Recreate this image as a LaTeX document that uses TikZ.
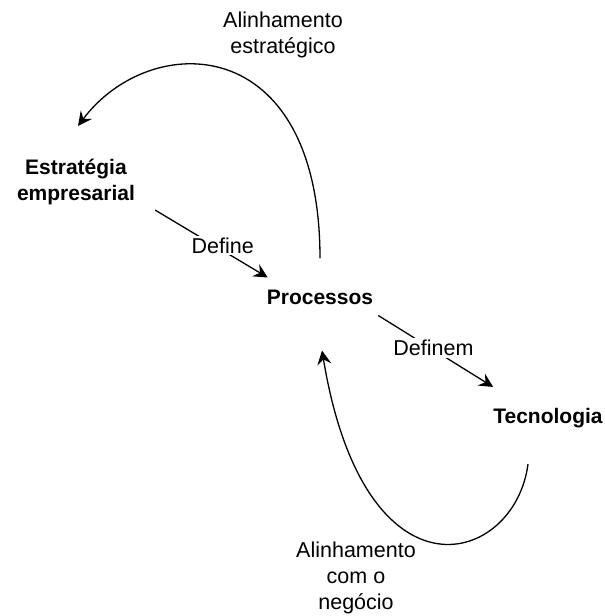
\documentclass[tikz,border=0pt]{standalone}
\usepackage{fontspec}
\setmainfont{Liberation Sans}
\usetikzlibrary{arrows.meta}
\begin{document}
\begin{tikzpicture}[x=1pt,y=-1pt,
  concept/.style={font=\fontsize{21}{26}\selectfont\bfseries, align=center, inner sep=2pt},
  note/.style={font=\fontsize{21.5}{26}\selectfont, align=center, inner sep=2pt},
  lbl/.style={note, fill=white},
  link/.style={line width=1.3pt, -{Stealth[length=14pt,width=14pt,inset=5pt]}},
]
\useasboundingbox (0,0) rectangle (605,616);

% concepts
\node[concept] (est) at (76,182) {Estratégia\\empresarial};
\node[concept] (proc) at (320,297) {Processos};
\node[concept] (tec) at (548,418) {Tecnologia};

% straight "define" relations
\draw[link] ([xshift=18pt,yshift=-3pt]est.south east)
  -- node[lbl, pos=0.6, yshift=5pt] (def1) {Define}
  ([xshift=3pt,yshift=10pt]proc.north west);
\draw[link] ([xshift=3pt,yshift=-9pt]proc.south east)
  -- node[lbl, pos=0.48, yshift=2pt] (def2) {Definem}
  ([xshift=2pt,yshift=19pt]tec.north west);

% alignment loops
\draw[link] ([yshift=29pt]proc.north)
  .. controls (320,30) and (150,30) .. ([xshift=2pt,yshift=31pt]est.north);
\node[note] (alin1) at (283,35) {Alinhamento\\estratégico};

\draw[link] ([xshift=-20pt,yshift=-34pt]tec.south)
  .. controls (515,565) and (365,610) .. ([xshift=2pt,yshift=-44pt]proc.south);
\node[note] (alin2) at (356,578) {Alinhamento\\com o\\negócio};
\end{tikzpicture}
\end{document}
